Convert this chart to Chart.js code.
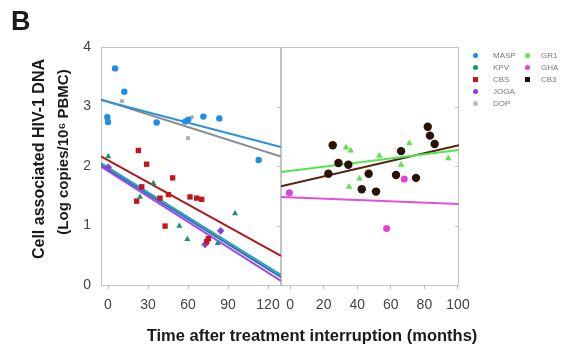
<!DOCTYPE html>
<html><head><meta charset="utf-8">
<script src="https://cdn.jsdelivr.net/npm/chart.js@4"></script>
<style>
html,body{margin:0;padding:0;background:#fff;}
#wrap{position:relative;width:564px;height:345px;overflow:hidden;font-family:"Liberation Sans",Arial,sans-serif;background:#fff;}
canvas{position:absolute;top:0;}
#cl{left:0;} #cr{left:275px;}
.t{position:absolute;white-space:nowrap;color:#1a1a1a;font-weight:bold;line-height:1;}
.rot{transform:translate(-50%,-50%) rotate(-90deg);}
.lg{position:absolute;font-size:8px;color:#7a7a7a;line-height:1;white-space:nowrap;}
.mk{position:absolute;width:5px;height:5px;}
</style></head><body>
<div id="wrap">
<canvas id="cl" width="300" height="345"></canvas>
<canvas id="cr" width="205" height="345"></canvas>
<div class="t" style="left:11px;top:8px;font-size:27px;">B</div>
<div class="t" style="left:312px;top:335px;font-size:16.5px;transform:translate(-50%,-50%);">Time after treatment interruption (months)</div>
<div class="t rot" style="left:39px;top:159px;font-size:16px;">Cell associated HIV-1 DNA</div>
<div class="t rot" style="left:62px;top:152px;font-size:15px;">(Log copies/10⁶ PBMC)</div>
<div id="legend"></div>
</div>
<script>
// ---- axis ticks ----
const yTicks = [0, 1, 2, 3, 4];
const leftXTicks = [0, 30, 60, 90, 120];
const rightXTicks = [0, 20, 40, 60, 80, 100];
const leftXRange = [-5.25, 129.75];
const rightXRange = [-5.4, 100.6];

// ---- left panel series (months, log copies) ----
const maspMonths = [5.3, 12.2, 0, -0.5, 36.5, 58, 60.2, 71.5, 83.5, 113];
const maspValues = [3.64, 3.25, 2.74, 2.82, 2.73, 2.75, 2.78, 2.83, 2.80, 2.10];
const kpvMonths = [0.2, 34, 24, 53.5, 59.5, 95.3, 82.3];
const kpvValues = [2.16, 1.71, 1.48, 0.99, 0.77, 1.20, 0.70];
const cbsMonths = [22.8, 29, 48.5, 25.3, 21.5, 39, 45.3, 61.5, 66.5, 70.3, 42.8, 75.3, 74];
const cbsValues = [2.26, 2.03, 1.80, 1.65, 1.41, 1.46, 1.52, 1.48, 1.46, 1.44, 0.99, 0.78, 0.73];
const jogaMonths = [0.2, 84.5, 72.8];
const jogaValues = [1.98, 0.91, 0.68];
const dopMonths = [10.5, 60, 62.8];
const dopValues = [3.09, 2.47, 2.82];

// ---- right panel series ----
const gr1Months = [33.3, 36.1, 41.3, 35.1, 53.2, 66.1, 71, 94.2];
const gr1Values = [2.31, 2.26, 1.79, 1.65, 2.17, 2.02, 2.38, 2.13];
const ghaMonths = [-0.4, 68, 57.5];
const ghaValues = [1.55, 1.78, 0.95];
const cb3Months = [25.4, 28.8, 34.7, 22.8, 46.8, 42.7, 51.2, 66.1, 63.1, 75, 82, 83.3, 86.1];
const cb3Values = [2.35, 2.05, 2.02, 1.87, 1.87, 1.61, 1.57, 2.25, 1.85, 1.80, 2.66, 2.51, 2.37];

// ---- regression lines: value at start and end of each panel range ----
const maspFit = [3.11, 2.32];
const dopFit = [3.12, 2.16];
const cbsFit = [2.16, 0.49];
const kpvFit = [2.05, 0.17];
const pooledFit = [2.02, 0.13];
const jogaFit = [1.99, 0.07];
const gr1Fit = [1.90, 2.27];
const cb3Fit = [1.66, 2.35];
const ghaFit = [1.48, 1.36];

// ---- legend ----
const legendLabels = ['MASP', 'KPV', 'CBS', 'JOGA', 'DOP', 'GR1', 'GHA', 'CB3'];
const legendColors = ['#1f8fe6', '#17936a', '#c8141c', '#8a3ee0', '#bdbdbd', '#5ae64a', '#e040e0', '#1a0c06'];

function pts(m, v) { return m.map((x, i) => ({ x: x, y: v[i] })); }
function fitPts(r, f) { return [{ x: r[0], y: f[0] }, { x: r[1], y: f[1] }]; }
function scat(m, v, color, style, r) {
  return { data: pts(m, v), backgroundColor: color, borderColor: color, pointStyle: style,
    pointRadius: r, pointBorderWidth: 0, showLine: false, order: 1 };
}
function line(r, f, color) {
  return { data: fitPts(r, f), borderColor: color, backgroundColor: color, borderWidth: 2,
    pointRadius: 0, showLine: true, fill: false, order: 2 };
}

const frame = {
  id: 'frame',
  beforeDatasetsDraw(c) {
    const a = c.chartArea, ctx = c.ctx, y = c.scales.y;
    ctx.save();
    ctx.strokeStyle = '#c4c4c4'; ctx.lineWidth = 1;
    ctx.strokeRect(Math.round(a.left) + 0.5, Math.round(a.top) + 0.5, Math.round(a.width) - 1, Math.round(a.height));
    ctx.beginPath();
    yTicks.forEach(t => {
      const py = Math.round(y.getPixelForValue(t)) + 0.5;
      ctx.moveTo(a.right - 4, py); ctx.lineTo(a.right, py);
    });
    ctx.stroke();
    ctx.restore();
  }
};

function makeChart(id, range, xt, datasets, showY, padding) {
  return new Chart(document.getElementById(id), {
    type: 'scatter',
    data: { datasets: datasets },
    options: {
      responsive: false, animation: false, devicePixelRatio: 1,
      layout: { padding: padding },
      plugins: { legend: { display: false }, tooltip: { enabled: false } },
      scales: {
        x: {
          type: 'linear', min: range[0], max: range[1],
          afterBuildTicks: s => { s.ticks = xt.map(v => ({ value: v })); },
          afterFit: s => { s.height = 30; },
          grid: { display: true, drawOnChartArea: false, drawTicks: true, tickLength: 4, color: '#bbbbbb' },
          border: { display: false },
          ticks: { autoSkip: false, maxRotation: 0, padding: 8, color: '#444',
            font: { family: '"Liberation Sans", Arial, sans-serif', size: 14 } }
        },
        y: {
          display: showY, min: 0, max: 4,
          afterBuildTicks: s => { s.ticks = yTicks.map(v => ({ value: v })); },
          afterFit: s => { s.width = showY ? 101 : 0; },
          grid: { display: false, drawTicks: false },
          border: { display: false },
          ticks: { padding: 10, color: '#444',
            font: { family: '"Liberation Sans", Arial, sans-serif', size: 14 } }
        }
      }
    },
    plugins: [frame]
  });
}

makeChart('cl', leftXRange, leftXTicks, [
  scat(maspMonths, maspValues, legendColors[0], 'circle', 3.2),
  scat(kpvMonths, kpvValues, legendColors[1], 'triangle', 3.5),
  scat(cbsMonths, cbsValues, legendColors[2], 'rect', 3.8),
  scat(jogaMonths, jogaValues, legendColors[3], 'rectRot', 3.8),
  scat(dopMonths, dopValues, '#a8a8a8', 'rect', 2.6),
  line(leftXRange, maspFit, '#2a90e0'),
  line(leftXRange, dopFit, '#8c8c8c'),
  line(leftXRange, cbsFit, '#b01818'),
  line(leftXRange, kpvFit, '#2aa8a0'),
  line(leftXRange, pooledFit, '#3a62d8'),
  line(leftXRange, jogaFit, '#9a4ae8')
], true, { left: 0, top: 47, right: 19, bottom: 30 });

makeChart('cr', rightXRange, rightXTicks, [
  scat(gr1Months, gr1Values, legendColors[5], 'triangle', 3.8),
  scat(ghaMonths, ghaValues, legendColors[6], 'circle', 3.5),
  scat(cb3Months, cb3Values, '#2a1208', 'circle', 4.2),
  line(rightXRange, gr1Fit, '#4ee84e'),
  line(rightXRange, cb3Fit, '#55220f'),
  line(rightXRange, ghaFit, '#e050d8')
], false, { left: 6, top: 47, right: 21, bottom: 30 });

// legend
const lg = document.getElementById('legend');
legendLabels.forEach((lab, i) => {
  const col = i < 5 ? 0 : 1, row = i < 5 ? i : i - 5;
  const mx = col ? 525 : 473, lx = col ? 541 : 493, y = 53 + row * 12;
  const m = document.createElement('div');
  m.className = 'mk';
  m.style.left = mx + 'px'; m.style.top = y + 'px'; m.style.background = legendColors[i];
  m.style.borderRadius = (i === 2 || i === 7) ? '0' : '50%';
  lg.appendChild(m);
  const t = document.createElement('div');
  t.className = 'lg'; t.textContent = lab;
  t.style.left = lx + 'px'; t.style.top = (y - 1) + 'px';
  lg.appendChild(t);
});
</script>
</body></html>
